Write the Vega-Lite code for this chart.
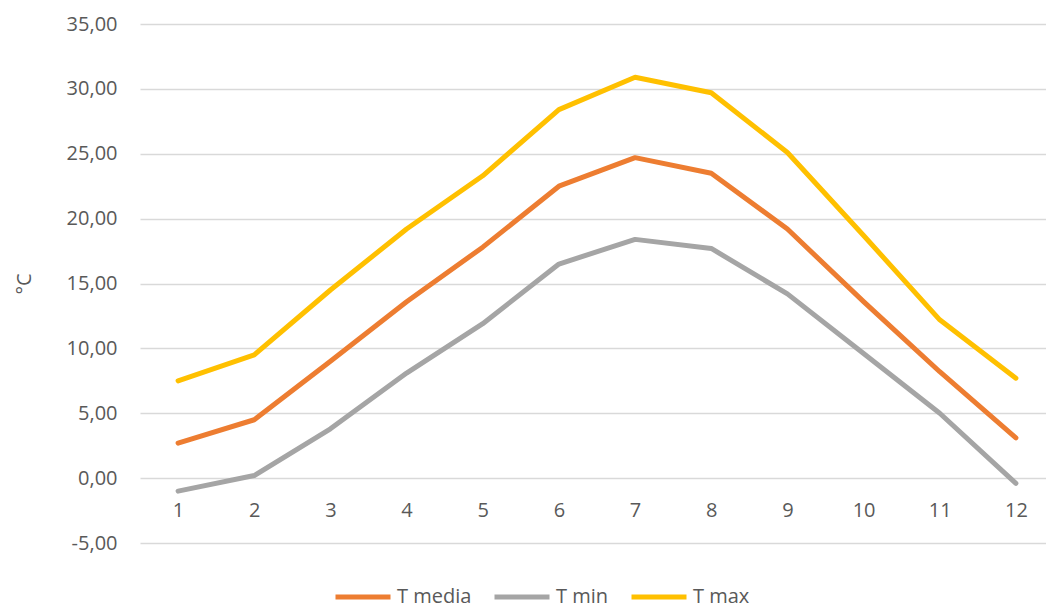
{
  "$schema": "https://vega.github.io/schema/vega-lite/v6.json",
  "width": 906,
  "height": 519,
  "autosize": {"type": "none"},
  "padding": {"left": 140, "top": 24, "right": 0, "bottom": 63},
  "background": "white",
  "config": {
    "view": {"stroke": null},
    "font": "Open Sans",
    "axis": {"labelFont": "Open Sans", "titleFont": "Open Sans", "labelColor": "#595959", "titleColor": "#595959"},
    "legend": {"labelFont": "Open Sans"}
  },
  "data": {
    "values": [
      {"mese": 1, "serie": "T media", "t": 2.7},
      {"mese": 2, "serie": "T media", "t": 4.5},
      {"mese": 3, "serie": "T media", "t": 9.0},
      {"mese": 4, "serie": "T media", "t": 13.6},
      {"mese": 5, "serie": "T media", "t": 17.8},
      {"mese": 6, "serie": "T media", "t": 22.5},
      {"mese": 7, "serie": "T media", "t": 24.7},
      {"mese": 8, "serie": "T media", "t": 23.5},
      {"mese": 9, "serie": "T media", "t": 19.2},
      {"mese": 10, "serie": "T media", "t": 13.6},
      {"mese": 11, "serie": "T media", "t": 8.2},
      {"mese": 12, "serie": "T media", "t": 3.1},
      {"mese": 1, "serie": "T min", "t": -1.0},
      {"mese": 2, "serie": "T min", "t": 0.2},
      {"mese": 3, "serie": "T min", "t": 3.8},
      {"mese": 4, "serie": "T min", "t": 8.1},
      {"mese": 5, "serie": "T min", "t": 11.9},
      {"mese": 6, "serie": "T min", "t": 16.5},
      {"mese": 7, "serie": "T min", "t": 18.4},
      {"mese": 8, "serie": "T min", "t": 17.7},
      {"mese": 9, "serie": "T min", "t": 14.2},
      {"mese": 10, "serie": "T min", "t": 9.6},
      {"mese": 11, "serie": "T min", "t": 5.0},
      {"mese": 12, "serie": "T min", "t": -0.4},
      {"mese": 1, "serie": "T max", "t": 7.5},
      {"mese": 2, "serie": "T max", "t": 9.5},
      {"mese": 3, "serie": "T max", "t": 14.5},
      {"mese": 4, "serie": "T max", "t": 19.2},
      {"mese": 5, "serie": "T max", "t": 23.3},
      {"mese": 6, "serie": "T max", "t": 28.4},
      {"mese": 7, "serie": "T max", "t": 30.9},
      {"mese": 8, "serie": "T max", "t": 29.7},
      {"mese": 9, "serie": "T max", "t": 25.1},
      {"mese": 10, "serie": "T max", "t": 18.7},
      {"mese": 11, "serie": "T max", "t": 12.2},
      {"mese": 12, "serie": "T max", "t": 7.7}
    ]
  },
  "mark": {"type": "line", "strokeWidth": 5, "strokeCap": "round", "strokeJoin": "round"},
  "encoding": {
    "x": {
      "field": "mese",
      "type": "ordinal",
      "scale": {"type": "point", "range": [0, 914], "padding": 0.5},
      "axis": {
        "title": null,
        "labelAngle": 0,
        "labelFontSize": 20,
        "labelPadding": 22,
        "ticks": false,
        "domain": false,
        "grid": false,
        "offset": -65
      }
    },
    "y": {
      "field": "t",
      "type": "quantitative",
      "scale": {"domain": [-5, 35], "nice": false, "zero": false},
      "axis": {
        "title": "°C",
        "titleFontSize": 20,
        "titleFontWeight": "normal",
        "titlePadding": 32,
        "values": [-5, 0, 5, 10, 15, 20, 25, 30, 35],
        "labelExpr": "replace(replace(format(datum.value, '.2f'), '.', ','), '−', '-')",
        "labelFontSize": 20,
        "labelPadding": 23,
        "ticks": false,
        "domain": false,
        "gridColor": "#D9D9D9",
        "gridWidth": 1.3
      }
    },
    "color": {
      "field": "serie",
      "type": "nominal",
      "sort": ["T media", "T min", "T max"],
      "scale": {"domain": ["T media", "T min", "T max"], "range": ["#ED7D31", "#A5A5A5", "#FFC000"]},
      "legend": {
        "title": null,
        "orient": "none",
        "direction": "horizontal",
        "legendX": 193,
        "legendY": 543,
        "symbolType": "stroke",
        "symbolSize": 3025,
        "symbolStrokeWidth": 5,
        "labelFontSize": 20,
        "labelColor": "#595959",
        "labelOffset": 4,
        "columnPadding": 12,
        "padding": 0
      }
    }
  }
}
